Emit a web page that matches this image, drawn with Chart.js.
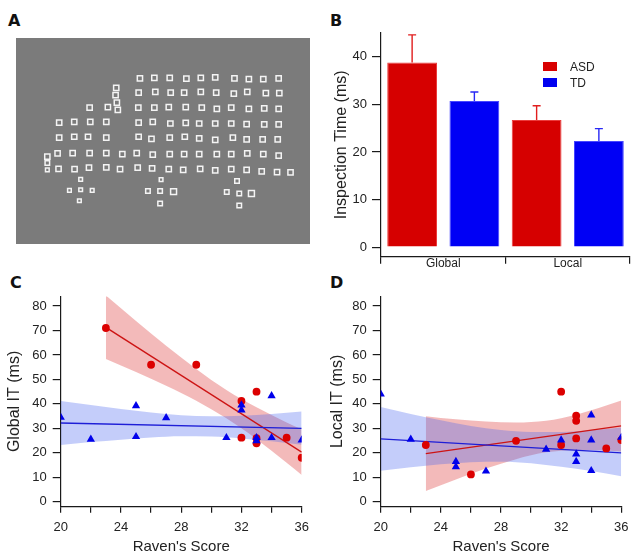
<!DOCTYPE html>
<html><head><meta charset="utf-8">
<script src="https://cdn.jsdelivr.net/npm/chart.js@4.4.1/dist/chart.umd.min.js"></script>
<style>
html,body{margin:0;padding:0;background:#fff;}
body{width:638px;height:559px;position:relative;overflow:hidden;}
canvas{position:absolute;}
.lab{position:absolute;font:bold 16px 'DejaVu Sans',sans-serif;line-height:16px;color:#111;}
.leg{position:absolute;font:12px 'Liberation Sans',Arial,sans-serif;line-height:12px;color:#222;}
.box{position:absolute;width:14px;height:9px;}
</style></head><body>
<div class="lab" style="left:8px;top:13px">A</div>
<div class="lab" style="left:330px;top:13px">B</div>
<div class="lab" style="left:10px;top:275px">C</div>
<div class="lab" style="left:330px;top:275px">D</div>
<canvas id="cA" width="294" height="206" style="left:16px;top:38px;background:#7b7b7b"></canvas>
<canvas id="cB" width="318" height="280" style="left:320px;top:0px"></canvas>
<canvas id="cC" width="318" height="279" style="left:0px;top:280px"></canvas>
<canvas id="cD" width="318" height="279" style="left:320px;top:280px"></canvas>
<div class="box" style="left:543px;top:62px;background:#d80000"></div>
<div class="leg" style="left:570px;top:61px">ASD</div>
<div class="box" style="left:543px;top:78px;background:#0000f0"></div>
<div class="leg" style="left:570px;top:77px">TD</div>
<script>
// ---------- Panel A: stimulus (square positions in stimulus units) ----------
const stimX = [417,462,510,562,607,652,712,757,802,850,
  413,465,513,555,607,655,710,752,810,852,
  260,317,412,462,507,560,610,657,702,757,805,850,
  165,212,262,312,413,457,512,560,602,652,702,750,805,850,
  165,212,255,312,413,453,510,557,602,652,707,750,800,847,
  160,207,260,312,362,407,457,510,555,602,657,702,752,802,850,
  163,213,258,312,355,410,455,507,552,605,652,702,750,797,845,887,
  343,341,345,348, 128,128,128,
  232,197,232,268,228, 483,442,480,522,480, 720,688,727,765,727];
const stimY = [225,223,223,226,223,222,225,227,227,225,
  270,268,270,270,268,270,273,268,272,272,
  318,316,318,318,316,316,318,322,318,322,320,322,
  365,363,363,363,365,363,368,366,368,368,368,370,371,371,
  413,410,410,413,410,417,413,410,415,420,413,418,418,418,
  463,462,462,462,465,462,467,465,465,465,465,465,463,465,470,
  512,513,508,507,513,508,510,513,515,512,517,513,515,520,522,523,
  255,278,302,325, 473,493,515,
  545,580,578,580,613, 546,582,582,584,622, 550,585,590,590,628];
// kind: n = normal, s = small, m = medium, b = big
const stimKind = [].concat(
  Array(96).fill('n'), ['m'],
  ['s','s','s','s','s','s','s'],
  ['m','m','b','m','m','m','m','b','m','m','m','m','b','m','m']);

// ---------- Panel B ----------
const bCategories = ['Global', 'Local'];
const asdMean = [38.8, 26.7];
const asdErr  = [5.8, 3.0];
const tdMean  = [30.7, 22.3];
const tdErr   = [1.9, 2.6];
const bTicks  = [0, 10, 20, 30, 40];

// ---------- Panel C (Global IT) ----------
const cAsdX = [23, 26, 29, 32, 32, 33, 33, 33, 35, 36];
const cAsdY = [71, 56, 56, 41.2, 26.2, 45, 23.9, 26, 26.2, 18];
const cTdX  = [20, 22, 25, 25, 27, 31, 32, 32, 33, 33, 34, 34, 36];
const cTdY  = [34.5, 25.5, 39.2, 26.6, 34.3, 26.2, 39.5, 37.5, 26.2, 24.9, 43.3, 26.2, 25.2];
const cAsdFitX = [23, 36];
const cAsdFitY = [71.3, 20.3];
const cTdFitX  = [20, 36];
const cTdFitY  = [32.2, 30.0];
const cAsdBandX  = [23, 25, 27, 29, 31, 33, 35, 36];
const cAsdUpper  = [84.3, 73.9, 63.8, 54.3, 45.7, 38.6, 32.4, 29.6];
const cAsdLower  = [58.3, 53.0, 47.4, 41.3, 34.1, 25.6, 16.0, 11.0];
const cTdBandX   = [20, 22, 24, 26, 28, 30, 32, 34, 36];
const cTdUpper   = [41.2, 39.5, 37.9, 36.5, 35.4, 35.0, 35.2, 35.9, 36.9];
const cTdLower   = [23.2, 24.4, 25.4, 26.3, 26.8, 26.7, 25.9, 24.7, 23.3];

// ---------- Panel D (Local IT) ----------
const dAsdX = [23, 26, 29, 32, 32, 33, 33, 33, 35, 36];
const dAsdY = [23.2, 11.2, 24.9, 45, 23.2, 35.2, 33.1, 25.9, 21.8, 25.2];
const dTdX  = [20, 22, 25, 25, 27, 31, 32, 33, 33, 34, 34, 34, 36];
const dTdY  = [44, 25.5, 16.4, 14.3, 12.5, 21.4, 25.2, 19.5, 16.4, 35.4, 25.2, 12.7, 26.3];
const dAsdFitX = [23, 36];
const dAsdFitY = [19.7, 31.0];
const dTdFitX  = [20, 36];
const dTdFitY  = [25.7, 20.0];
const dAsdBandX  = [23, 25, 27, 29, 31, 33, 35, 36];
const dAsdUpper  = [35.0, 33.7, 32.8, 32.4, 33.1, 35.6, 39.3, 41.4];
const dAsdLower  = [4.4, 9.1, 13.6, 17.4, 20.2, 21.2, 21.0, 20.6];
const dTdBandX   = [20, 22, 24, 26, 28, 30, 32, 34, 36];
const dTdUpper   = [38.7, 35.9, 33.3, 31.0, 29.3, 28.5, 28.5, 29.3, 30.4];
const dTdLower   = [12.7, 14.1, 15.3, 16.2, 16.4, 15.8, 14.3, 12.6, 10.4];

const scatterYTicks = [0, 10, 20, 30, 40, 50, 60, 70, 80];
const scatterXTicks = [20, 22, 24, 26, 28, 30, 32, 34, 36];

// ---------------------------------------------------------------
const FONT = "'Liberation Sans', Arial, sans-serif";
Chart.defaults.font.family = FONT;
Chart.defaults.color = '#222';
Chart.defaults.animation = false;
Chart.defaults.events = [];

const RED = 'rgb(214,0,0)';
const BLUE = 'rgb(0,0,235)';
const AXIS = '#1a1a1a';

const pts = (xs, ys) => xs.map((x, i) => ({x: x, y: ys[i]}));

// Panel A
const kindRadius = {n: 3.7, s: 2.6, m: 3.2, b: 4.2};
new Chart(document.getElementById('cA'), {
  type: 'scatter',
  data: {datasets: [{
    data: pts(stimX, stimY),
    pointStyle: 'rect',
    pointRadius: stimKind.map(k => kindRadius[k]),
    borderColor: '#f4f4f4',
    backgroundColor: 'rgba(0,0,0,0)',
    borderWidth: 1.5
  }]},
  options: {
    responsive: false, layout: {padding: 0},
    plugins: {legend: {display: false}, tooltip: {enabled: false}},
    scales: {
      x: {display: false, min: 48, max: 930},
      y: {display: false, min: 115, max: 732, reverse: true}
    }
  }
});

// Panel B
const errorBars = {
  id: 'errorBars',
  afterDatasetsDraw(chart) {
    const ctx = chart.ctx, y = chart.scales.y;
    chart.data.datasets.forEach((ds, i) => {
      const meta = chart.getDatasetMeta(i);
      meta.data.forEach((bar, j) => {
        const top = y.getPixelForValue(ds.data[j] + ds.errors[j]);
        ctx.save();
        ctx.strokeStyle = ds.errColor; ctx.lineWidth = 1.4;
        ctx.beginPath();
        ctx.moveTo(bar.x, bar.y); ctx.lineTo(bar.x, top);
        ctx.moveTo(bar.x - 4, top); ctx.lineTo(bar.x + 4, top);
        ctx.stroke(); ctx.restore();
      });
    });
  }
};
new Chart(document.getElementById('cB'), {
  type: 'bar',
  data: {
    labels: bCategories,
    datasets: [
      {label: 'ASD', data: asdMean, errors: asdErr, errColor: 'rgb(225,30,30)',
       backgroundColor: RED, borderColor: 'rgb(235,60,60)', borderWidth: 1,
       categoryPercentage: 1.0, barPercentage: 0.8},
      {label: 'TD', data: tdMean, errors: tdErr, errColor: 'rgb(40,40,245)',
       backgroundColor: 'rgb(0,0,245)', borderColor: 'rgb(70,70,255)', borderWidth: 1,
       categoryPercentage: 1.0, barPercentage: 0.8}
    ]
  },
  plugins: [errorBars],
  options: {
    responsive: false,
    layout: {padding: {left: 0, right: 8, top: 33, bottom: 0}},
    plugins: {legend: {display: false}, tooltip: {enabled: false}},
    scales: {
      x: {
        offset: true,
        grid: {offset: true, drawOnChartArea: false, drawTicks: true, tickLength: 7, color: AXIS, lineWidth: 1.2},
        border: {display: true, color: AXIS, width: 1.2},
        ticks: {font: {size: 12}, color: '#222', padding: -7},
        afterFit: s => { s.height = 23.3; }
      },
      y: {
        min: -2, max: 45,
        afterBuildTicks: s => { s.ticks = bTicks.map(v => ({value: v})); },
        grid: {drawOnChartArea: false, drawTicks: true, tickLength: 9, color: AXIS, lineWidth: 1.2},
        border: {display: true, color: AXIS, width: 1.2},
        ticks: {font: {size: 13}, color: '#222', padding: 5},
        title: {display: true, text: 'Inspection Time (ms)', font: {size: 16}, color: '#222', padding: {top: 12.1, bottom: 0}},
        afterFit: s => { s.width = 61; }
      }
    }
  }
});

// Panels C and D
function scatterPanel(id, cfg) {
  new Chart(document.getElementById(id), {
    type: 'scatter',
    data: {datasets: [
      {data: pts(cfg.tdX, cfg.tdY), pointStyle: 'triangle', pointRadius: 4.8,
       backgroundColor: BLUE, borderWidth: 0, order: 0},
      {data: pts(cfg.asdX, cfg.asdY), pointStyle: 'circle', pointRadius: 3.9,
       backgroundColor: 'rgb(220,0,0)', borderWidth: 0, order: 1},
      {data: pts(cfg.tdFitX, cfg.tdFitY), showLine: true, pointRadius: 0,
       borderColor: 'rgb(30,30,215)', borderWidth: 1.4, order: 2},
      {data: pts(cfg.asdFitX, cfg.asdFitY), showLine: true, pointRadius: 0,
       borderColor: 'rgb(205,20,20)', borderWidth: 1.4, order: 3},
      {data: pts(cfg.tdBandX, cfg.tdUpper), showLine: true, pointRadius: 0, borderWidth: 0,
       borderColor: 'rgba(0,0,0,0)', fill: '+1', backgroundColor: 'rgba(70,100,240,0.32)',
       cubicInterpolationMode: 'monotone', order: 4},
      {data: pts(cfg.tdBandX, cfg.tdLower), showLine: true, pointRadius: 0, borderWidth: 0,
       borderColor: 'rgba(0,0,0,0)', fill: false, cubicInterpolationMode: 'monotone', order: 5},
      {data: pts(cfg.asdBandX, cfg.asdUpper), showLine: true, pointRadius: 0, borderWidth: 0,
       borderColor: 'rgba(0,0,0,0)', fill: '+1', backgroundColor: 'rgba(220,45,45,0.33)',
       cubicInterpolationMode: 'monotone', order: 6},
      {data: pts(cfg.asdBandX, cfg.asdLower), showLine: true, pointRadius: 0, borderWidth: 0,
       borderColor: 'rgba(0,0,0,0)', fill: false, cubicInterpolationMode: 'monotone', order: 7}
    ]},
    options: {
      responsive: false,
      layout: {padding: {left: 0, right: cfg.padRight, top: 16.2, bottom: 0}},
      plugins: {legend: {display: false}, tooltip: {enabled: false}},
      scales: {
        x: {
          min: 20, max: 36,
          afterBuildTicks: s => { s.ticks = scatterXTicks.map(v => ({value: v})); },
          grid: {drawOnChartArea: false, drawTicks: true, tickLength: 6, color: AXIS, lineWidth: 1.2},
          border: {display: true, color: AXIS, width: 1.2},
          ticks: {font: {size: 13}, color: '#222', padding: 7.3,
                  callback: v => (v % 4 === 0 ? String(v) : '')},
          title: {display: true, text: "Raven's Score", font: {size: 15}, color: '#222', padding: {top: 0, bottom: 3}},
          afterFit: s => { s.height = 52.3; }
        },
        y: {
          min: -2, max: 84,
          afterBuildTicks: s => { s.ticks = scatterYTicks.map(v => ({value: v})); },
          grid: {drawOnChartArea: false, drawTicks: true, tickLength: 8, color: AXIS, lineWidth: 1.2},
          border: {display: true, color: AXIS, width: 1.2},
          ticks: {font: {size: 13}, color: '#222', padding: 6},
          title: {display: true, text: cfg.yTitle, font: {size: 16}, color: '#222', padding: {top: cfg.titlePad, bottom: 0}},
          afterFit: s => { s.width = 60.7; }
        }
      }
    }
  });
}

scatterPanel('cC', {
  asdX: cAsdX, asdY: cAsdY, tdX: cTdX, tdY: cTdY,
  asdFitX: cAsdFitX, asdFitY: cAsdFitY, tdFitX: cTdFitX, tdFitY: cTdFitY,
  asdBandX: cAsdBandX, asdUpper: cAsdUpper, asdLower: cAsdLower,
  tdBandX: cTdBandX, tdUpper: cTdUpper, tdLower: cTdLower,
  yTitle: 'Global IT (ms)', titlePad: 5.4, padRight: 16.3
});
scatterPanel('cD', {
  asdX: dAsdX, asdY: dAsdY, tdX: dTdX, tdY: dTdY,
  asdFitX: dAsdFitX, asdFitY: dAsdFitY, tdFitX: dTdFitX, tdFitY: dTdFitY,
  asdBandX: dAsdBandX, asdUpper: dAsdUpper, asdLower: dAsdLower,
  tdBandX: dTdBandX, tdUpper: dTdUpper, tdLower: dTdLower,
  yTitle: 'Local IT (ms)', titlePad: 8.4, padRight: 16.7
});
</script>
</body></html>
